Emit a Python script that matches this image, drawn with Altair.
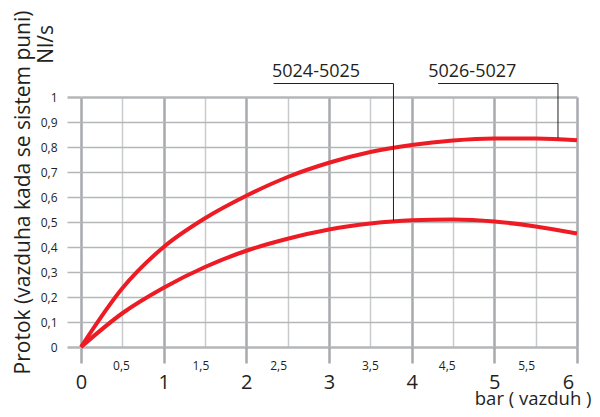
import altair as alt
import pandas as pd

# ---- data ----
x_vals = [0, 0.5, 1, 1.5, 2, 2.5, 3, 3.5, 4, 4.5, 5, 5.5, 6]
flow_5026_5027 = [0, 0.235, 0.40, 0.515, 0.605, 0.68, 0.737, 0.78, 0.808, 0.826, 0.834, 0.834, 0.827]
flow_5024_5025 = [0, 0.135, 0.237, 0.32, 0.385, 0.433, 0.47, 0.494, 0.507, 0.51, 0.502, 0.482, 0.454]

x_ticks = [0, 0.5, 1, 1.5, 2, 2.5, 3, 3.5, 4, 4.5, 5, 5.5, 6]
half_label_pos = [0.49, 1.45, 2.39, 3.5, 4.43, 5.39]
half_labels = ["0,5", "1,5", "2,5", "3,5", "4,5", "5,5"]
y_ticks = [0, 0.1, 0.2, 0.3, 0.4, 0.5, 0.6, 0.7, 0.8, 0.9, 1]

series_names = ["5026-5027", "5024-5025"]
label_x = [4.20, 2.31]
label_y = [1.079, 1.079]
leader_start_x = [4.32, 2.33]
leader_x = [5.77, 3.78]
leader_top_y = [1.054, 1.054]
leader_end_y = [0.835, 0.505]

y_title = "Protok (vazduha kada se sistem puni)"
y_unit = "Nl/s"
x_title = "bar ( vazduh )"

FONT = "Open Sans"
TXT = "#231f20"
RED = "#ed1c24"

curves = pd.DataFrame(
    {"x": x_vals * 2,
     "y": flow_5026_5027 + flow_5024_5025,
     "series": [series_names[0]] * len(x_vals) + [series_names[1]] * len(x_vals)}
)
half_df = pd.DataFrame({"x": half_label_pos, "y": [0] * len(half_label_pos), "label": half_labels})
lab_df = pd.DataFrame({"x": label_x, "y": label_y, "label": series_names})
segs = pd.DataFrame({
    "x": leader_start_x + leader_x,
    "x2": leader_x + leader_x,
    "y": leader_top_y + leader_top_y,
    "y2": leader_top_y + leader_end_y,
})
unit_df = pd.DataFrame({"label": [y_unit]})

xs = alt.Scale(domain=[0, 6], nice=False, zero=False)
ys = alt.Scale(domain=[0, 1], nice=False, zero=False)

is_int = "datum.value % 1 === 0"
is_edge = "datum.value === 0 || datum.value === 1"

x_axis = alt.Axis(
    values=x_ticks,
    grid=True,
    gridColor={"condition": {"test": is_int, "value": "#a7a9ac"}, "value": "#c9cacc"},
    gridWidth={"condition": {"test": is_int, "value": 2.5}, "value": 1.5},
    domain=False,
    ticks=True,
    tickSize=16,
    tickWidth=2.5,
    tickColor={"condition": {"test": is_int, "value": "#a7a9ac"}, "value": "transparent"},
    labelExpr="datum.value % 1 === 0 ? format(datum.value, 'd') : ''",
    labelOffset={"condition": {"test": "datum.value === 6", "value": -9},
                 "value": 0},
    labelFont=FONT,
    labelFontSize=20,
    labelColor=TXT,
    labelPadding=9,
    labelBaseline="top",
    labelFlush=False,
    labelOverlap=False,
    title=x_title,
    titleFont=FONT,
    titleFontSize=18.5,
    titleFontWeight="normal",
    titleColor=TXT,
    titleAlign="right",
    titleBaseline="alphabetic",
    titleX=510,
    titleY=57,
)

y_axis = alt.Axis(
    values=y_ticks,
    grid=True,
    gridColor="#b5b6b8",
    gridWidth={"condition": {"test": is_edge, "value": 2.5}, "value": 1.5},
    domain=False,
    ticks=True,
    tickSize=14,
    tickColor="#b5b6b8",
    tickWidth={"condition": {"test": is_edge, "value": 2.5}, "value": 1.5},
    labelExpr="replace(format(datum.value, '.1~f'), '.', ',')",
    labelFont=FONT,
    labelFontSize=12,
    labelColor=TXT,
    labelPadding=10,
    labelFlush=False,
    labelOverlap=False,
    title=y_title,
    titleFont=FONT,
    titleFontSize=21,
    titleFontWeight="normal",
    titleColor=TXT,
    titleAngle=270,
    titleAlign="right",
    titleBaseline="top",
    titleX=-69,
    titleY=-87,
)

X = alt.X("x:Q", scale=xs, axis=x_axis)
Y = alt.Y("y:Q", scale=ys, axis=y_axis)

lines = alt.Chart(curves).mark_line(color=RED, strokeWidth=4, interpolate="monotone").encode(
    x=X, y=Y, detail="series:N",
)

halfs = alt.Chart(half_df).mark_text(
    font=FONT, fontSize=12, color=TXT, baseline="alphabetic", dy=23
).encode(x=X, y=Y, text="label:N")

rules = alt.Chart(segs).mark_rule(color=TXT, strokeWidth=1).encode(
    x=X, x2="x2:Q", y=Y, y2="y2:Q",
)

labels = alt.Chart(lab_df).mark_text(
    font=FONT, fontSize=18, color=TXT, align="left", baseline="alphabetic"
).encode(x=X, y=Y, text="label:N")

unit = alt.Chart(unit_df).mark_text(
    font=FONT, fontSize=21, color=TXT, angle=270, align="right", baseline="top"
).encode(
    x=alt.value(-45),
    y=alt.value(-72),
    text="label:N",
)

chart = alt.layer(lines, halfs, rules, labels, unit).properties(
    width=496,
    height=250,
    padding={"left": 73, "top": 89, "right": 15, "bottom": 62},
    autosize="none",
    background="white",
).configure_view(strokeWidth=0)

chart.save("out.html", embed_options={"renderer": "svg", "actions": False})
